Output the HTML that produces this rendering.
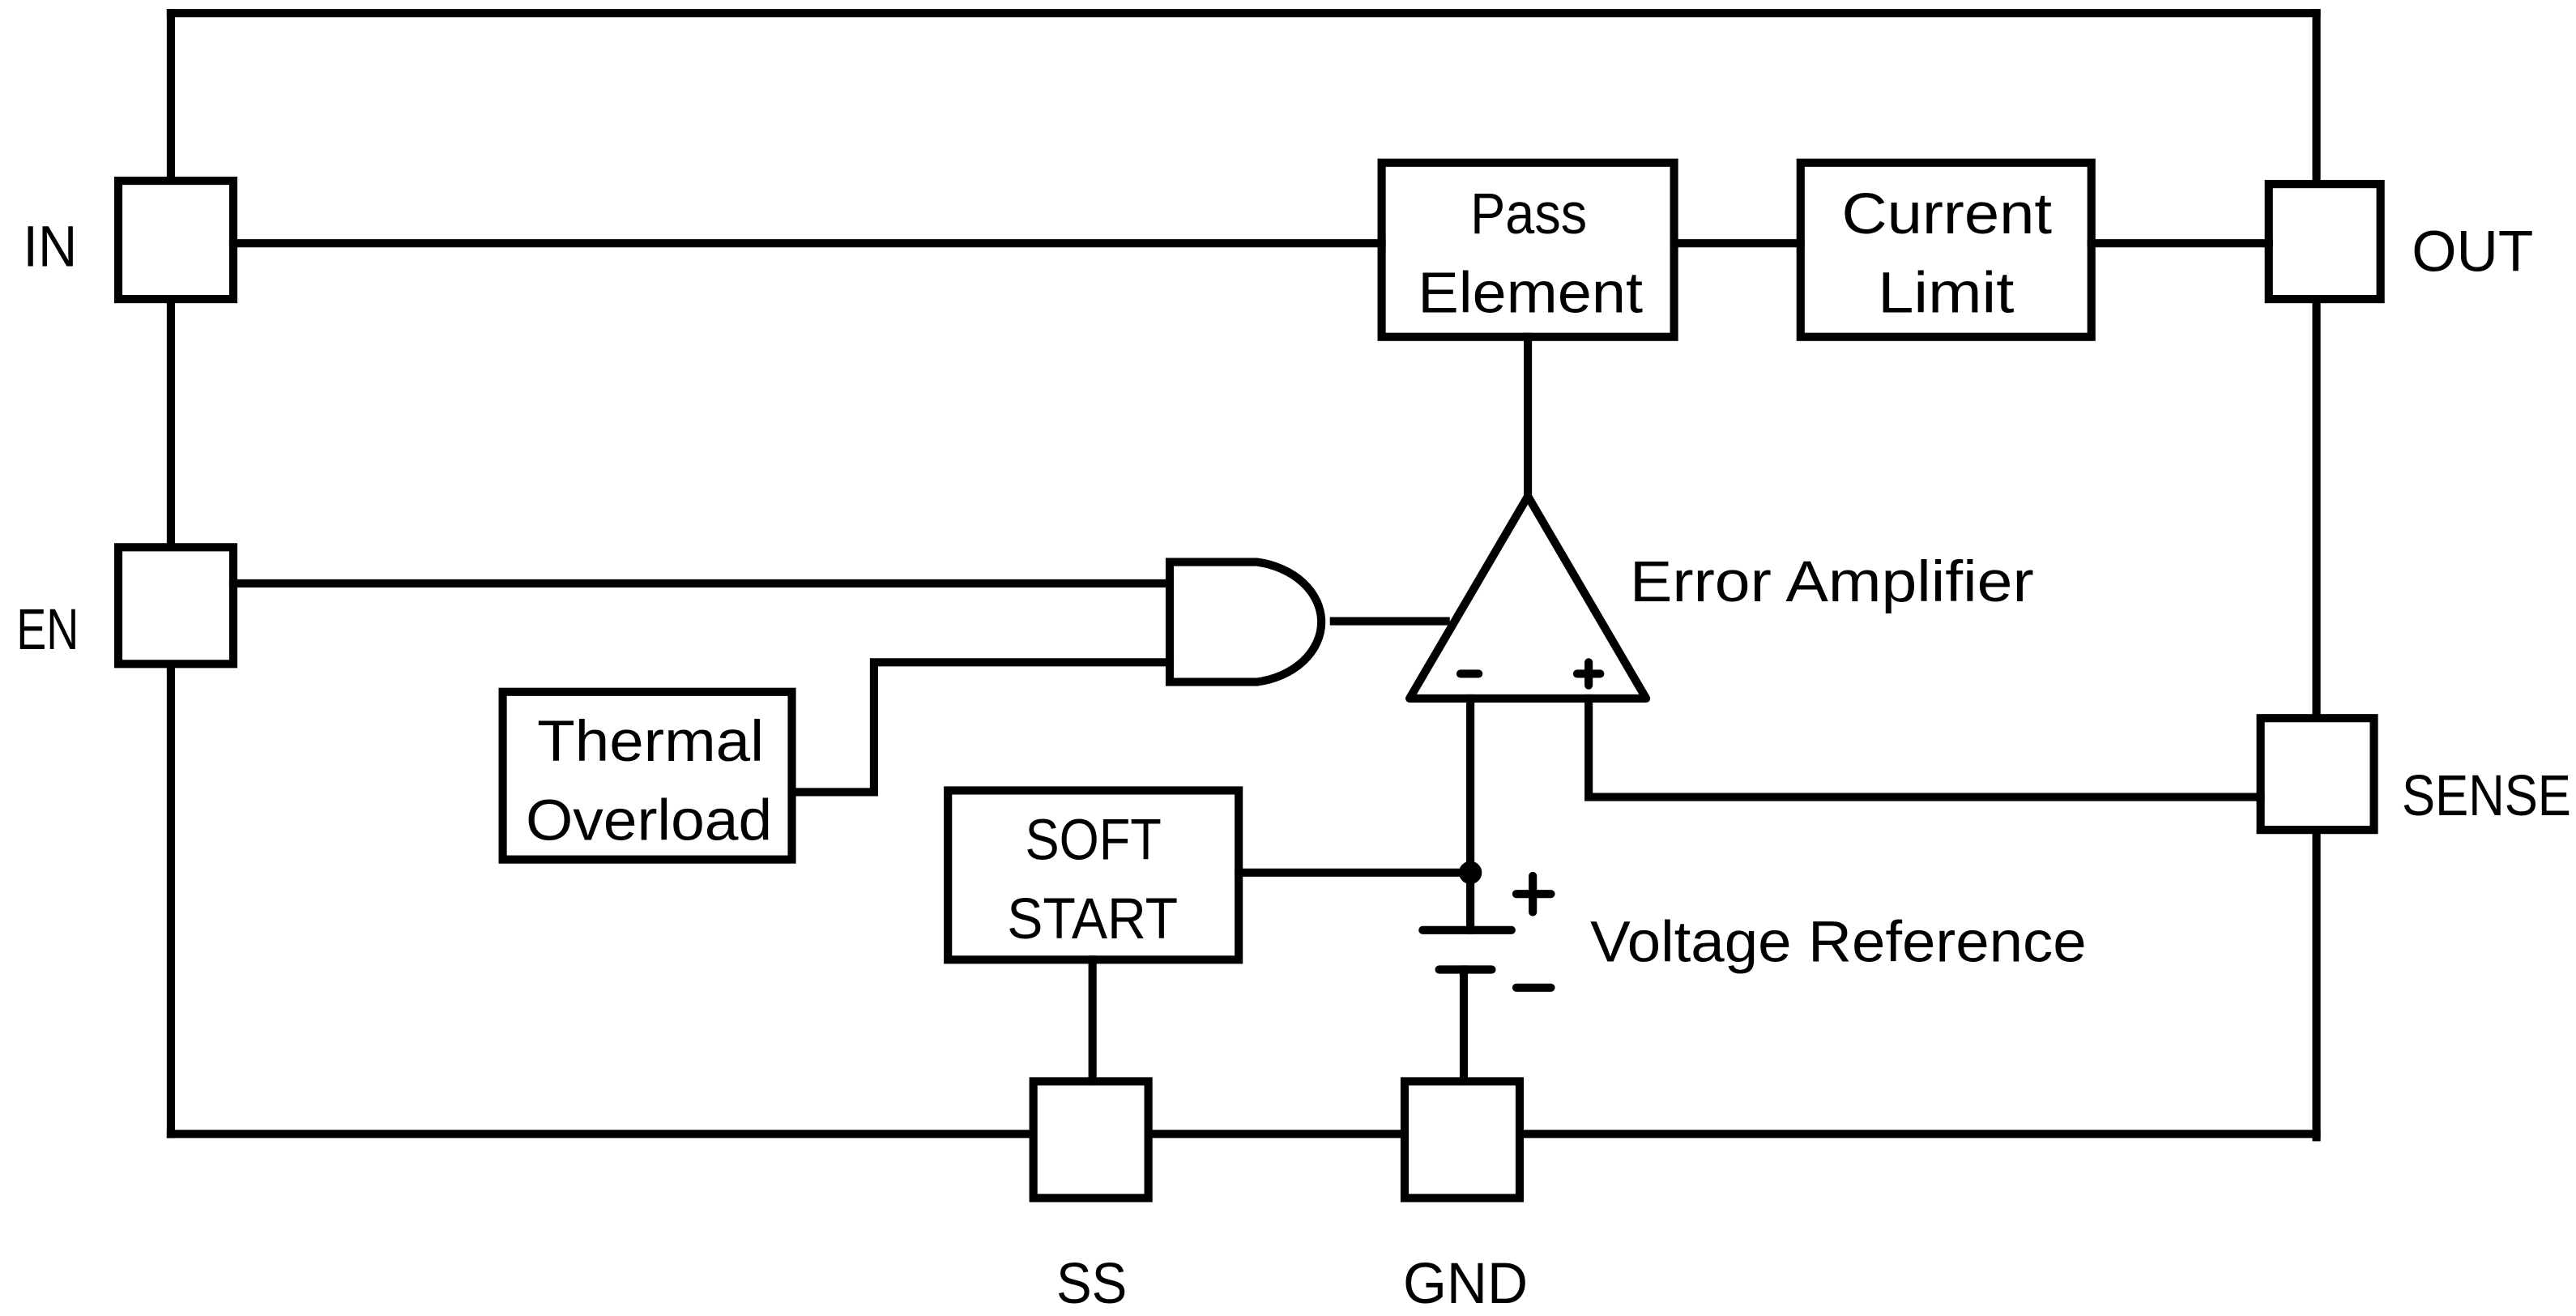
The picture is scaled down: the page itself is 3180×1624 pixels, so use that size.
<!DOCTYPE html>
<html><head><meta charset="utf-8"><style>
html,body{margin:0;padding:0;background:#fff;}
svg{display:block;}
text{font-family:"Liberation Sans",sans-serif;font-size:35px;fill:#000;}
</style></head><body>
<svg width="3180" height="1624" viewBox="0 0 1568 800.8" preserveAspectRatio="none" xmlns="http://www.w3.org/2000/svg">
<g stroke="#000" stroke-width="5" fill="none" stroke-linecap="square">
<line x1="104" y1="8" x2="1410" y2="8"/>
<line x1="104" y1="8" x2="104" y2="690"/>
<line x1="1410" y1="8" x2="1410" y2="692"/>
<line x1="104" y1="690" x2="1410" y2="690"/>
<rect x="72" y="110" width="70" height="72" fill="#fff"/>
<rect x="72" y="333" width="70" height="71" fill="#fff"/>
<rect x="1381" y="112" width="68" height="70" fill="#fff"/>
<rect x="1376" y="437" width="69" height="68" fill="#fff"/>
<rect x="629" y="658" width="70" height="71" fill="#fff"/>
<rect x="855" y="658" width="70" height="71" fill="#fff"/>
<line x1="142" y1="148" x2="841" y2="148"/>
<rect x="841" y="99" width="178" height="106"/>
<line x1="1019" y1="148" x2="1096" y2="148"/>
<rect x="1096" y="99" width="177" height="106"/>
<line x1="1273" y1="148" x2="1381" y2="148"/>
<line x1="930" y1="205" x2="930" y2="300"/>
<polygon points="930,302 858,425 1002,425" stroke-linejoin="round"/>
<line x1="889" y1="410" x2="900" y2="410" stroke-linecap="round"/>
<line x1="960" y1="410" x2="974" y2="410" stroke-linecap="round"/>
<line x1="967" y1="403" x2="967" y2="417" stroke-linecap="round"/>
<line x1="142" y1="355" x2="712" y2="355"/>
<path d="M712,342 L765,342 A47,37 0 0 1 765,415 L712,415 Z"/>
<line x1="812" y1="378" x2="880" y2="378"/>
<rect x="306" y="421" width="176" height="102"/>
<polyline points="482,482 532,482 532,403 712,403"/>
<rect x="577" y="481" width="177" height="103"/>
<line x1="754" y1="531" x2="895" y2="531"/>
<line x1="895" y1="425" x2="895" y2="566"/>
<line x1="866" y1="566" x2="920" y2="566" stroke-linecap="round"/>
<line x1="876" y1="590" x2="908" y2="590" stroke-linecap="round"/>
<line x1="891" y1="590" x2="891" y2="658"/>
<line x1="665" y1="584" x2="665" y2="658"/>
<polyline points="967,425 967,485 1376,485"/>
<line x1="923" y1="544" x2="944" y2="544" stroke-linecap="round"/>
<line x1="933" y1="533" x2="933" y2="555" stroke-linecap="round"/>
<line x1="923" y1="601" x2="944" y2="601" stroke-linecap="round"/>
</g>
<circle cx="895" cy="531" r="7" fill="#000"/>
<text x="14" y="162" textLength="33" lengthAdjust="spacingAndGlyphs">IN</text>
<text x="10" y="395" textLength="38" lengthAdjust="spacingAndGlyphs">EN</text>
<text x="1468" y="165" textLength="74" lengthAdjust="spacingAndGlyphs">OUT</text>
<text x="1462" y="496" textLength="103" lengthAdjust="spacingAndGlyphs">SENSE</text>
<text x="643" y="793" textLength="43" lengthAdjust="spacingAndGlyphs">SS</text>
<text x="854" y="793" textLength="76" lengthAdjust="spacingAndGlyphs">GND</text>
<text x="895" y="142" textLength="71" lengthAdjust="spacingAndGlyphs">Pass</text>
<text x="863" y="190" textLength="137" lengthAdjust="spacingAndGlyphs">Element</text>
<text x="1121" y="142" textLength="128" lengthAdjust="spacingAndGlyphs">Current</text>
<text x="1143" y="190" textLength="83" lengthAdjust="spacingAndGlyphs">Limit</text>
<text x="327" y="463" textLength="138" lengthAdjust="spacingAndGlyphs">Thermal</text>
<text x="320" y="511" textLength="150" lengthAdjust="spacingAndGlyphs">Overload</text>
<text x="624" y="523" textLength="83" lengthAdjust="spacingAndGlyphs">SOFT</text>
<text x="613" y="571" textLength="104" lengthAdjust="spacingAndGlyphs">START</text>
<text x="992" y="366" textLength="246" lengthAdjust="spacingAndGlyphs">Error Amplifier</text>
<text x="968" y="585" textLength="302" lengthAdjust="spacingAndGlyphs">Voltage Reference</text>
</svg>
</body></html>
